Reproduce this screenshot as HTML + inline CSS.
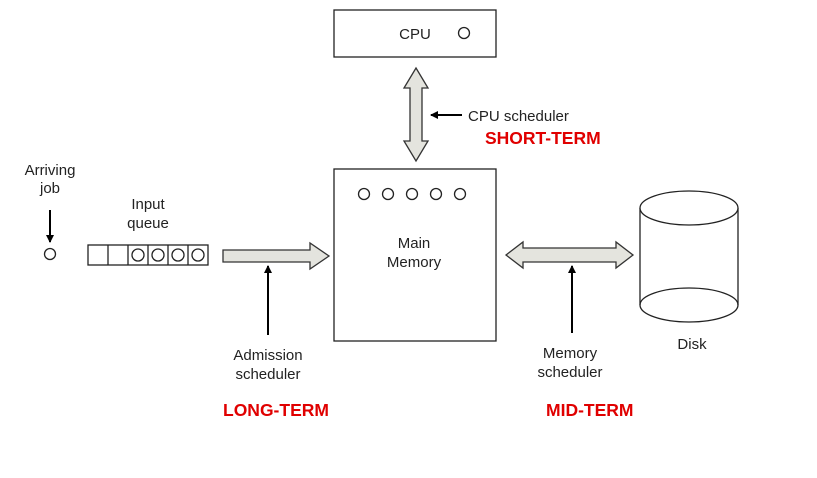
<!DOCTYPE html>
<html><head><style>body{margin:0;background:#fff}</style></head><body>
<svg width="817" height="473" viewBox="0 0 817 473" xmlns="http://www.w3.org/2000/svg" font-family="Liberation Sans, sans-serif">
<defs><marker id="ah" markerWidth="8" markerHeight="8" refX="7" refY="4" orient="auto" markerUnits="userSpaceOnUse"><path d="M0,0 L8,4 L0,8 Z" fill="#000"/></marker></defs>
<g stroke="#222" stroke-width="1.3" fill="none">
<rect x="334" y="10" width="162" height="47"/>
<rect x="334" y="169" width="162" height="172"/>
<circle cx="464" cy="33" r="5.5"/>
<circle cx="364" cy="194" r="5.5"/><circle cx="388" cy="194" r="5.5"/><circle cx="412" cy="194" r="5.5"/><circle cx="436" cy="194" r="5.5"/><circle cx="460" cy="194" r="5.5"/>
<circle cx="50" cy="254" r="5.5"/>
<rect x="88" y="245" width="120" height="20"/>
<line x1="108" y1="245" x2="108" y2="265"/><line x1="128" y1="245" x2="128" y2="265"/><line x1="148" y1="245" x2="148" y2="265"/><line x1="168" y1="245" x2="168" y2="265"/><line x1="188" y1="245" x2="188" y2="265"/>
<circle cx="138" cy="255" r="6"/><circle cx="158" cy="255" r="6"/><circle cx="178" cy="255" r="6"/><circle cx="198" cy="255" r="6"/>
<path d="M640,208 V305 M738,208 V305"/>
<ellipse cx="689" cy="208" rx="49" ry="17" fill="#fff"/>
<ellipse cx="689" cy="305" rx="49" ry="17"/>
</g>
<g stroke="#333" stroke-width="1.3" fill="#e4e4de">
<path d="M416,68 L428,88 L422,88 L422,141 L428,141 L416,161 L404,141 L410,141 L410,88 L404,88 Z"/>
<path d="M223,250 L310,250 L310,243 L329,256 L310,269 L310,262 L223,262 Z"/>
<path d="M506,255 L523,242 L523,248 L616,248 L616,242 L633,255 L616,268 L616,262 L523,262 L523,268 Z"/>
</g>
<g stroke="#000" stroke-width="2">
<line x1="50" y1="210" x2="50" y2="242" marker-end="url(#ah)"/>
<line x1="268" y1="335" x2="268" y2="266" marker-end="url(#ah)"/>
<line x1="572" y1="333" x2="572" y2="266" marker-end="url(#ah)"/>
<line x1="462" y1="115" x2="431" y2="115" marker-end="url(#ah)"/>
</g>
<g font-size="15" fill="#222" text-anchor="middle">
<text x="415" y="39">CPU</text>
<text x="468" y="121" text-anchor="start">CPU scheduler</text>
<text x="50" y="175">Arriving</text><text x="50" y="193">job</text>
<text x="148" y="209">Input</text><text x="148" y="228">queue</text>
<text x="414" y="248">Main</text><text x="414" y="267">Memory</text>
<text x="268" y="360">Admission</text><text x="268" y="379">scheduler</text>
<text x="570" y="358">Memory</text><text x="570" y="377">scheduler</text>
<text x="692" y="349">Disk</text>
</g>
<g font-size="17.5" font-weight="bold" fill="#e00000">
<text x="485" y="144">SHORT-TERM</text>
<text x="223" y="416">LONG-TERM</text>
<text x="546" y="416">MID-TERM</text>
</g>
</svg>
</body></html>
